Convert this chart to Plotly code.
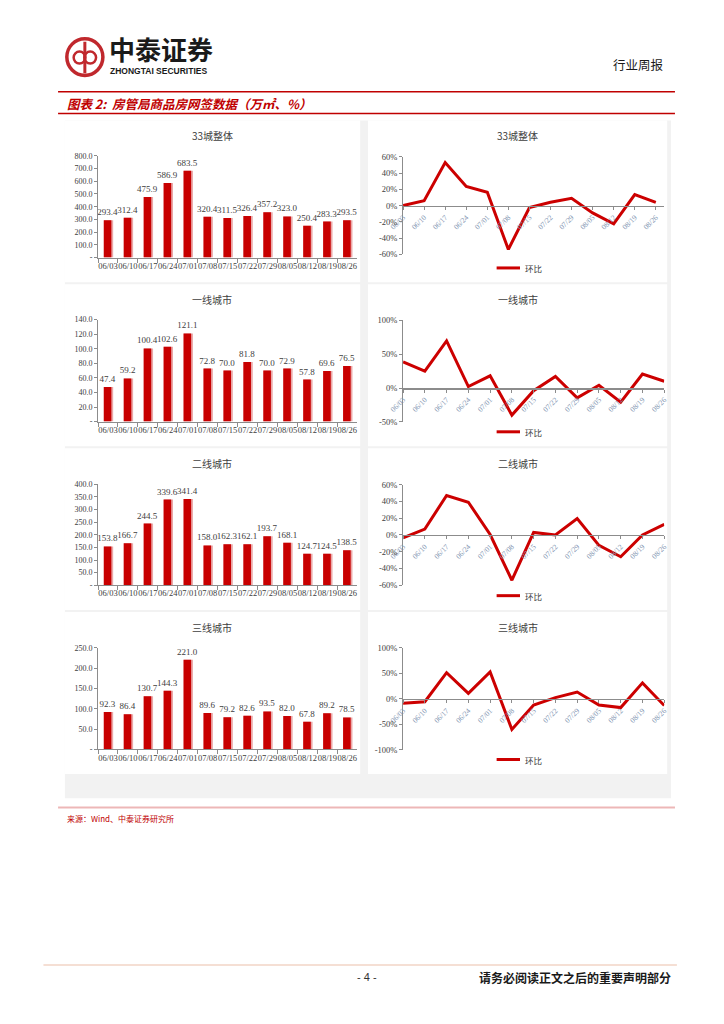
import plotly.graph_objects as go

# ---------------- data ----------------
dates = ["06/03", "06/10", "06/17", "06/24", "07/01", "07/08", "07/15",
         "07/22", "07/29", "08/05", "08/12", "08/19", "08/26"]

area_33 = [293.4, 312.4, 475.9, 586.9, 683.5, 320.4, 311.5, 326.4, 357.2, 323.0, 250.4, 283.3, 293.5]
area_t1 = [47.4, 59.2, 100.4, 102.6, 121.1, 72.8, 70.0, 81.8, 70.0, 72.9, 57.8, 69.6, 76.5]
area_t2 = [153.8, 166.7, 244.5, 339.6, 341.4, 158.0, 162.3, 162.1, 193.7, 168.1, 124.7, 124.5, 138.5]
area_t3 = [92.3, 86.4, 130.7, 144.3, 221.0, 89.6, 79.2, 82.6, 93.5, 82.0, 67.8, 89.2, 78.5]

mom_33 = [0.0, 6.0, 53.0, 23.5, 16.5, -54.0, -2.5, 4.0, 9.0, -9.0, -22.5, 13.5, 4.0]
mom_t1 = [38.5, 25.0, 69.5, 2.2, 18.0, -40.0, -4.0, 17.0, -14.5, 4.0, -21.0, 20.5, 10.0]
mom_t2 = [-3.5, 7.0, 47.0, 39.0, 0.5, -54.0, 3.0, 0.0, 19.5, -12.5, -26.0, 0.0, 12.5]
mom_t3 = [-8.5, -5.5, 51.5, 11.0, 53.0, -60.0, -12.0, 2.5, 13.5, -12.0, -17.0, 31.5, -13.0]

bar_titles = ["33城整体", "一线城市", "二线城市", "三线城市"]
line_titles = ["33城整体", "一线城市", "二线城市", "三线城市"]
legend_label = "环比"

# ---------------- helpers ----------------
# page body keeps the browser's default 8px margin, so the figure is 16px smaller
M = 8
W, H = 724 - 2 * M, 1024 - 2 * M
def px(x):
    return (x - M) / W
def py(y):
    return 1 - (y - M) / H

RED = "#C80000"
PINK = "#EBA8A8"
AX = "#8C8C8C"
TXT = "#404040"
NUM_FONT = "Liberation Serif, Noto Sans CJK SC"
CJK = "Noto Sans CJK SC"

fig = go.Figure()
layout = {}
shapes = []
annos = []

def note(text, x, y, size, color=TXT, family=CJK, xanchor="center"):
    annos.append(dict(text=text, x=px(x), y=py(y), xref="paper", yref="paper", xanchor=xanchor,
                      yanchor="middle", showarrow=False, font=dict(size=size, color=color, family=family)))

ROW = 165.5

# panel backgrounds
shapes.append(dict(type="rect", xref="paper", yref="paper", x0=px(52), x1=px(674),
                   y0=py(801), y1=py(116.5), fillcolor="#F2F2F2", line=dict(width=0), layer="below"))
for k in range(4):
    top = 116.5 + k * ROW
    bot = top + 163.5
    shapes.append(dict(type="rect", xref="paper", yref="paper", x0=px(52), x1=px(355),
                       y0=py(bot), y1=py(top), fillcolor="white", line=dict(width=0), layer="below"))
    shapes.append(dict(type="rect", xref="paper", yref="paper", x0=px(363), x1=px(670),
                       y0=py(bot), y1=py(top), fillcolor="white", line=dict(width=0), layer="below"))

bar_data = [area_33, area_t1, area_t2, area_t3]
bar_axes = [  # (ymax, step, top_px, bottom_px)
    (800, 100, 152.3, 255.0),
    (140, 20, 317.7, 420.7),
    (400, 50, 484.0, 586.0),
    (250, 50, 649.3, 751.7),
]
line_data = [mom_33, mom_t1, mom_t2, mom_t3]
line_axes = [  # (ymin, ymax, step, top_px, bottom_px, xmax)
    (-60, 60, 20, 153.3, 251.7, 12.4),
    (-50, 100, 50, 318.3, 421.0, 12.0),
    (-60, 60, 20, 484.3, 586.0, 12.0),
    (-100, 100, 50, 649.3, 752.3, 12.0),
]

for k in range(4):
    nb = 2 * k + 1
    nl = 2 * k + 2
    sb = "" if nb == 1 else str(nb)
    sl = str(nl)
    vals = bar_data[k]
    ymax, step, top, bot = bar_axes[k]

    fig.add_trace(go.Bar(x=dates, y=vals, width=0.47, offset=-0.21, marker=dict(color=PINK, line=dict(width=0)),
                         xaxis="x" + sb, yaxis="y" + sb, hoverinfo="skip", showlegend=False))
    fig.add_trace(go.Bar(x=dates, y=vals, width=0.38, offset=-0.21, marker=dict(color=RED, line=dict(width=0)),
                         text=[f"{v:.1f}" for v in vals], textposition="outside", cliponaxis=False,
                         constraintext="none",
                         textfont=dict(size=9, color=TXT, family=NUM_FONT),
                         xaxis="x" + sb, yaxis="y" + sb, showlegend=False))
    tv = list(range(0, ymax + 1, step))
    layout["xaxis" + sb] = dict(domain=[px(86), px(352)], anchor="y" + sb, type="category",
                                tickson="boundaries", ticks="outside", ticklen=4, tickcolor=AX,
                                showline=True, linecolor=AX, linewidth=1, showgrid=False, tickangle=0,
                                tickfont=dict(size=8.5, color=TXT, family=NUM_FONT), fixedrange=True)
    layout["yaxis" + sb] = dict(domain=[py(bot), py(top)], anchor="x" + sb, range=[0, ymax],
                                tickvals=tv, ticktext=["-"] + [f"{v:.1f}" for v in tv[1:]],
                                ticks="outside", ticklen=3, tickcolor=AX, showline=True, linecolor=AX,
                                showgrid=False, zeroline=False,
                                tickfont=dict(size=8, color=TXT, family=NUM_FONT), fixedrange=True)
    note(bar_titles[k], 203, 132 + k * ROW, 10)

    # line chart
    lv = line_data[k]
    ymin, ymx, lstep, ltop, lbot, xmax = line_axes[k]
    fig.add_trace(go.Scatter(x=dates, y=lv, mode="lines", line=dict(color="#CC0000", width=3),
                             xaxis="x" + sl, yaxis="y" + sl, cliponaxis=False, showlegend=False))
    d0, d1 = py(lbot), py(ltop)
    zero_pos = d0 + (0 - ymin) / (ymx - ymin) * (d1 - d0)
    layout["xaxis" + sl] = dict(domain=[px(399), px(667)], anchor="free", position=zero_pos,
                                type="category", range=[0, xmax], ticks="outside", ticklen=3,
                                tickcolor=AX, showline=True, linecolor=AX, linewidth=1.5,
                                showgrid=False, tickangle=-45,
                                tickfont=dict(size=7.5, color="#7E93B0", family=NUM_FONT), fixedrange=True)
    ltv = list(range(ymin, ymx + 1, lstep))
    layout["yaxis" + sl] = dict(domain=[d0, d1], anchor="x" + sl, range=[ymin, ymx], tickvals=ltv,
                                ticktext=[f"{v}%" for v in ltv], ticks="outside", ticklen=3,
                                tickcolor=AX, showline=True, linecolor=AX, showgrid=False, zeroline=False,
                                tickfont=dict(size=8.5, color=TXT, family=NUM_FONT), fixedrange=True)
    note(line_titles[k], 516.7, 132 + k * ROW, 10)
    ly = 265.5 + k * ROW
    shapes.append(dict(type="line", xref="paper", yref="paper", x0=px(495), x1=px(519), y0=py(ly), y1=py(ly),
                       line=dict(color="#CC0000", width=3)))
    note(legend_label, 522, ly, 8.5, xanchor="left")

# ---------------- page header / footer ----------------
LOGO = "#C0282D"
shapes += [
    dict(type="circle", xref="paper", yref="paper", x0=px(54), x1=px(91), y0=py(71), y1=py(34),
         line=dict(color=LOGO, width=3.5)),
    dict(type="circle", xref="paper", yref="paper", x0=px(61), x1=px(73), y0=py(59), y1=py(47),
         line=dict(color=LOGO, width=2.5)),
    dict(type="circle", xref="paper", yref="paper", x0=px(72), x1=px(84), y0=py(59), y1=py(47),
         line=dict(color=LOGO, width=2.5)),
    dict(type="line", xref="paper", yref="paper", x0=px(72.5), x1=px(72.5), y0=py(69), y1=py(37),
         line=dict(color=LOGO, width=3)),
    dict(type="line", xref="paper", yref="paper", x0=px(45), x1=px(678), y0=py(87.5), y1=py(87.5),
         line=dict(color="#C00000", width=1.5)),
    dict(type="line", xref="paper", yref="paper", x0=px(45), x1=px(678), y0=py(109.5), y1=py(109.5),
         line=dict(color="#C00000", width=1.5)),
    dict(type="line", xref="paper", yref="paper", x0=px(45), x1=px(678), y0=py(810.5), y1=py(810.5),
         line=dict(color="#EDB7B7", width=2)),
    dict(type="line", xref="paper", yref="paper", x0=px(30), x1=px(680), y0=py(969.5), y1=py(969.5),
         line=dict(color="#F2D5C6", width=1.5)),
]
note("<b>中泰证券</b>", 95, 43.5, 26, color="#1A1A1A", xanchor="left")
note("<b>ZHONGTAI SECURITIES</b>", 96, 67, 8.5, color="#1A1A1A", family="Liberation Sans", xanchor="left")
note("行业周报", 669, 60, 12.5, color="#1A1A1A", xanchor="right")
note("<b><i>图表 2:  房管局商品房网签数据（万㎡、%）</i></b>", 52, 99, 12.5, color="#C00000", xanchor="left")
note("来源：Wind、中泰证券研究所", 52, 822, 8, color="#C00000", xanchor="left")
note("- 4 -", 362, 982, 11, color="#333333", family="Liberation Sans")
note("<b>请务必阅读正文之后的重要声明部分</b>", 676, 982, 12, color="#1A1A1A", xanchor="right")

fig.update_layout(width=W, height=H, margin=dict(l=0, r=0, t=0, b=0), paper_bgcolor="white",
                  plot_bgcolor="rgba(0,0,0,0)", barmode="overlay", showlegend=False,
                  shapes=shapes, annotations=annos, font=dict(family=NUM_FONT, color=TXT), **layout)

fig.write_html("out.html", config={"displayModeBar": False, "staticPlot": True})
